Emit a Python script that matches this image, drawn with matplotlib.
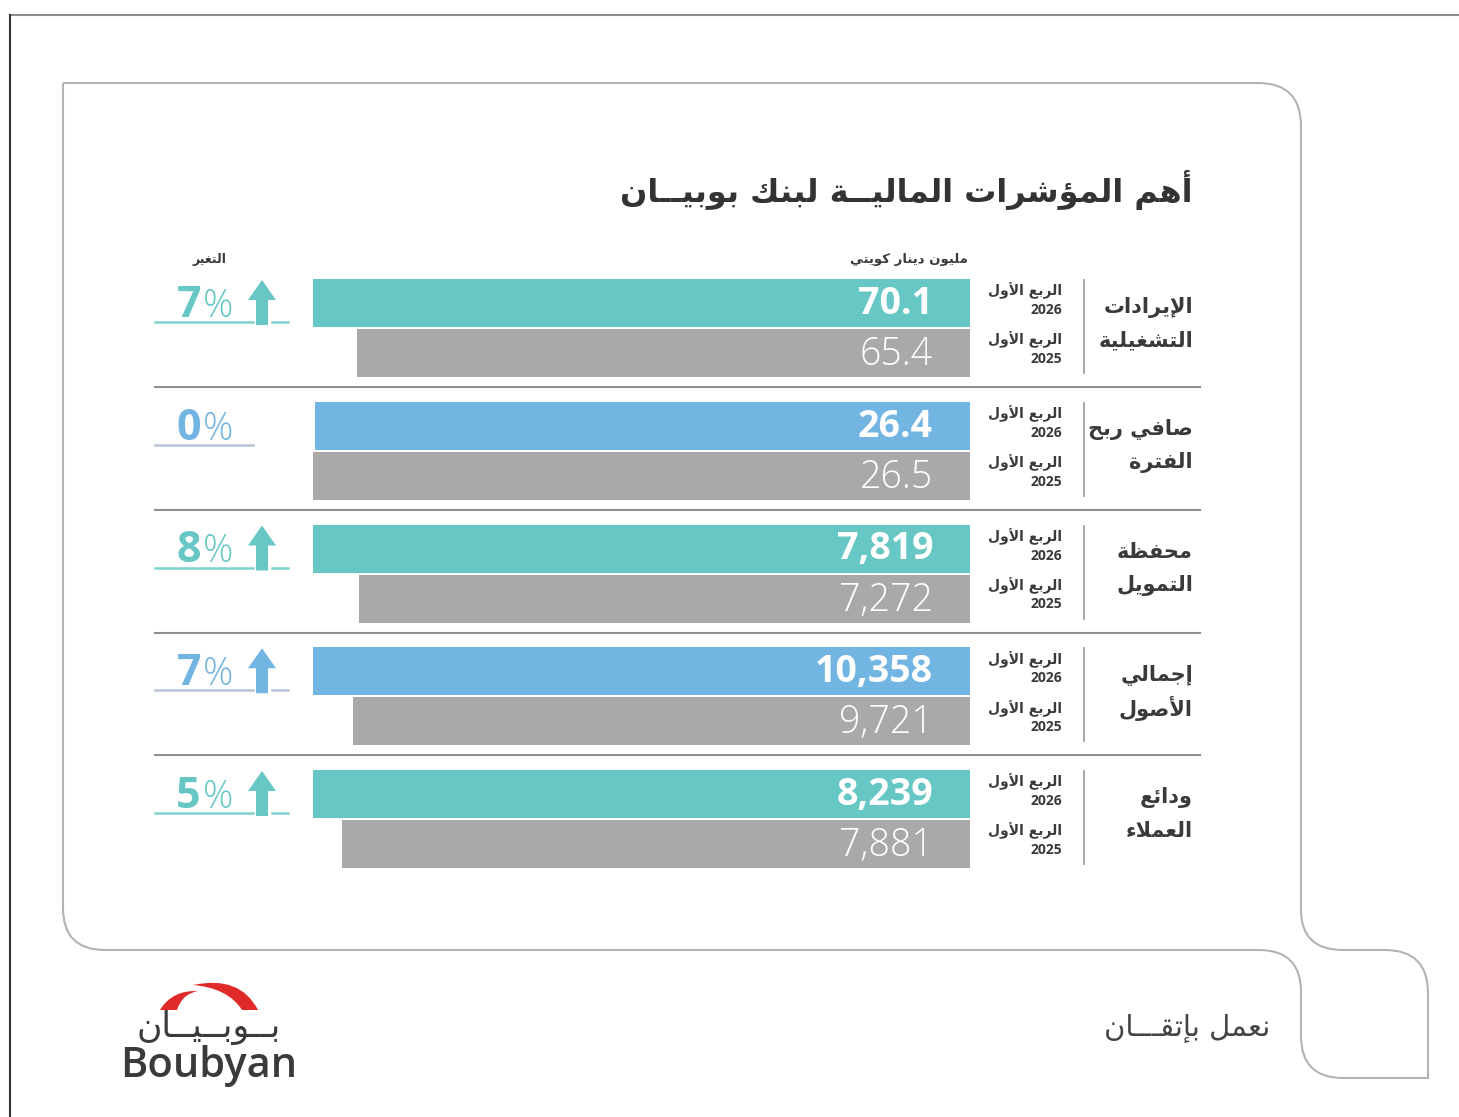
import matplotlib
matplotlib.use('Agg')
import matplotlib.pyplot as plt
from matplotlib.path import Path
from matplotlib.patches import PathPatch, Polygon

# Data
categories = [['الإيرادات', 'التشغيلية'], ['صافي ربح', 'الفترة'], ['محفظة', 'التمويل'],
              ['إجمالي', 'الأصول'], ['ودائع', 'العملاء']]
values_2026 = [70.1, 26.4, 7819, 10358, 8239]
values_2025 = [65.4, 26.5, 7272, 9721, 7881]
labels_2026 = ['70.1', '26.4', '7,819', '10,358', '8,239']
labels_2025 = ['65.4', '26.5', '7,272', '9,721', '7,881']
changes = ['7', '0', '8', '7', '5']
arrows = [True, False, True, True, True]
period_2026 = ['الربع الأول', '2026']
period_2025 = ['الربع الأول', '2025']
title = 'أهم المؤشرات الماليــة لبنك بوبيــان'
unit_label = 'مليون دينار كويتي'
change_label = 'التغير'
slogan = 'نعمل بإتقـــان'

TEAL = '#66c7c5'
BLUE = '#72b4e2'
GRAY = '#a9a9aa'
colors = [TEAL, BLUE, TEAL, BLUE, TEAL]
line_colors = ['#7fd3cf', '#b9c4d8', '#7fd3cf', '#b9c4d8', '#7fd3cf']
DARK = '#3a3a3a'

# --- minimal Arabic shaping (matplotlib has no shaping / bidi) ---
R_JOIN = {'آ': 0xFE81, 'أ': 0xFE83, 'ؤ': 0xFE85, 'إ': 0xFE87, 'ا': 0xFE8D, 'ة': 0xFE93,
          'د': 0xFEA9, 'ذ': 0xFEAB, 'ر': 0xFEAD, 'ز': 0xFEAF, 'و': 0xFEED, 'ى': 0xFEEF}
D_JOIN = {'ئ': 0xFE89, 'ب': 0xFE8F, 'ت': 0xFE95, 'ث': 0xFE99, 'ج': 0xFE9D, 'ح': 0xFEA1,
          'خ': 0xFEA5, 'س': 0xFEB1, 'ش': 0xFEB5, 'ص': 0xFEB9, 'ض': 0xFEBD, 'ط': 0xFEC1,
          'ظ': 0xFEC5, 'ع': 0xFEC9, 'غ': 0xFECD, 'ف': 0xFED1, 'ق': 0xFED5, 'ك': 0xFED9,
          'ل': 0xFEDD, 'م': 0xFEE1, 'ن': 0xFEE5, 'ه': 0xFEE9, 'ي': 0xFEF1}
LAM_ALEF = {'آ': 0xFEF5, 'أ': 0xFEF7, 'إ': 0xFEF9, 'ا': 0xFEFB}


def jtype(t):
    if isinstance(t, tuple):
        return 'R'
    if t in D_JOIN or t == 'ـ':
        return 'D'
    if t in R_JOIN:
        return 'R'
    return 'U'


def ar(s):
    tokens = []
    i = 0
    while i < len(s):
        if s[i] == 'ل' and i + 1 < len(s) and s[i + 1] in LAM_ALEF:
            tokens.append(('LA', s[i + 1]))
            i += 2
        else:
            tokens.append(s[i])
            i += 1
    out = []
    for k, t in enumerate(tokens):
        prev = tokens[k - 1] if k > 0 else None
        nxt = tokens[k + 1] if k + 1 < len(tokens) else None
        jt = jtype(t)
        jp = prev is not None and jtype(prev) == 'D' and jt in 'DR'
        jn = nxt is not None and jt == 'D' and jtype(nxt) in 'DR'
        if isinstance(t, tuple):
            out.append(chr(LAM_ALEF[t[1]] + (1 if jp else 0)))
        elif t in D_JOIN:
            off = 3 if (jp and jn) else 1 if jp else 2 if jn else 0
            out.append(chr(D_JOIN[t] + off))
        elif t in R_JOIN:
            out.append(chr(R_JOIN[t] + (1 if jp else 0)))
        else:
            out.append(t)
    return ''.join(reversed(out))


W, H = 1459, 1117
fig = plt.figure(figsize=(W / 100, H / 100), dpi=100)

# bars, one small axes per metric (bars grow leftwards from the right edge)
step = 122.75
for i in range(5):
    y0 = 278 + step * i
    bax = fig.add_axes([313 / W, 1 - (y0 + 100) / H, 657 / W, 100 / H])
    vmax = max(values_2026[i], values_2025[i])
    bax.barh([1, 0], [values_2026[i], values_2025[i]], height=0.96,
             color=[colors[i], GRAY])
    bax.set_xlim(vmax, 0)
    bax.set_ylim(-0.5, 1.5)
    bax.axis('off')

# overlay in pixel coordinates for text and decoration
ax = fig.add_axes([0, 0, 1, 1])
ax.set_zorder(10)
ax.set_xlim(0, W)
ax.set_ylim(H, 0)
ax.axis('off')

AR = 'DejaVu Sans'
NUM = 'Open Sans'

# outer frame
ax.plot([10, W], [15, 15], color='#8c8c8c', lw=1.5)
ax.plot([10, 10], [15, H], color='#333333', lw=1.5)

# card outline
M, L4, C3 = Path.MOVETO, Path.LINETO, Path.CURVE3
verts = [(63, 83), (1258, 83), (1301, 83), (1301, 126), (1301, 910), (1301, 950), (1343, 950),
         (1385, 950), (1428, 950), (1428, 993), (1428, 1078), (1343, 1078), (1301, 1078),
         (1301, 1036), (1301, 992), (1301, 950), (1259, 950), (105, 950), (63, 950), (63, 908),
         (63, 83)]
codes = [M, L4, C3, C3, L4, C3, C3, L4, C3, C3, L4, L4, C3, C3, L4, C3, C3, L4, C3, C3, L4]
ax.add_patch(PathPatch(Path(verts, codes), fill=False, ec='#b3b3b3', lw=1.5))

# title and headers
ax.text(1193, 190, ar(title), family=AR, weight='bold', fontsize=23, color='#333333',
        ha='right', va='center')
ax.text(968, 259, ar(unit_label), family=AR, weight='bold', fontsize=9.5, color=DARK,
        ha='right', va='center')
ax.text(210, 259, ar(change_label), family=AR, weight='bold', fontsize=9, color=DARK,
        ha='center', va='center')

for i in range(5):
    y0 = 278 + step * i
    ax.text(933, y0 + 26, labels_2026[i], family=NUM, weight='bold', fontsize=27,
            color='white', ha='right', va='center')
    ax.text(933, y0 + 77, labels_2025[i], family=NUM, weight='light', fontsize=27,
            color='white', ha='right', va='center')

    # periods
    ax.text(1062, y0 + 13, ar(period_2026[0]), family=AR, weight='bold', fontsize=10,
            color=DARK, ha='right', va='center')
    ax.text(1062, y0 + 32, period_2026[1], family=NUM, weight='bold', fontsize=10,
            color=DARK, ha='right', va='center')
    ax.text(1062, y0 + 62, ar(period_2025[0]), family=AR, weight='bold', fontsize=10,
            color=DARK, ha='right', va='center')
    ax.text(1062, y0 + 81, period_2025[1], family=NUM, weight='bold', fontsize=10,
            color=DARK, ha='right', va='center')
    ax.plot([1084, 1084], [y0 + 2, y0 + 95], color='#a0a0a0', lw=1.3)

    # category
    ax.text(1193, y0 + 29, ar(categories[i][0]), family=AR, weight='bold', fontsize=15,
            color=DARK, ha='right', va='center')
    ax.text(1193, y0 + 62, ar(categories[i][1]), family=AR, weight='bold', fontsize=15,
            color=DARK, ha='right', va='center')

    # change
    ax.text(201, y0 + 39, changes[i], family=NUM, weight='bold', fontsize=31,
            color=colors[i], ha='right', va='baseline')
    ax.text(203, y0 + 39, '%', family=NUM, weight='light', fontsize=27,
            color=colors[i], ha='left', va='baseline')
    ax.plot([155, 253], [y0 + 44, y0 + 44], color=line_colors[i], lw=1.8)
    if arrows[i]:
        ax.plot([272, 288], [y0 + 44, y0 + 44], color=line_colors[i], lw=1.8)
        ax.add_patch(Polygon([(262, y0 + 2), (276, y0 + 22), (268, y0 + 22), (268, y0 + 47),
                              (256, y0 + 47), (256, y0 + 22), (248, y0 + 22)],
                             closed=True, color=colors[i], lw=0))

    if i < 4:
        ax.plot([155, 1200], [y0 + 109, y0 + 109], color='#8f8f8f', lw=1.5)

# logo
ax.add_patch(PathPatch(Path([(160, 1010), (172, 990), (198, 991), (182, 994), (177, 1010),
                             (160, 1010)], [M, C3, C3, C3, C3, L4]), color='#e02a2a', lw=0))
ax.add_patch(PathPatch(Path([(193, 985), (240, 975), (258, 1010), (242, 1010), (228, 988),
                             (193, 985)], [M, C3, C3, L4, C3, C3]), color='#e02a2a', lw=0))
ax.text(209, 1037, ar('بــوبــيــان'), family=AR, fontsize=25, color='#3a3a3a',
        ha='center', va='baseline')
ax.text(209, 1077, 'Boubyan', family=NUM, weight='semibold', fontsize=30, color='#3a3a3a',
        ha='center', va='baseline')

ax.text(1270, 1028, ar(slogan), family=AR, fontsize=21, color='#444444',
        ha='right', va='center')

fig.savefig('out.png', dpi=100)
